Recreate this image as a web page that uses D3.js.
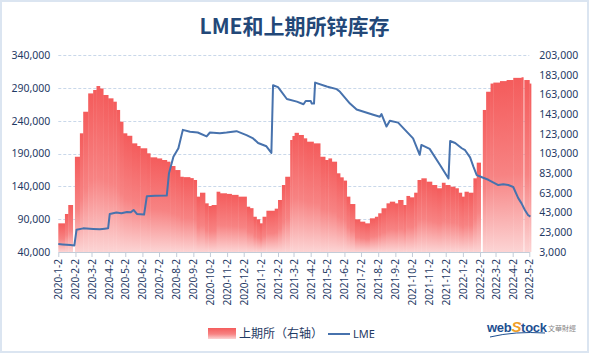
<!DOCTYPE html>
<html><head><meta charset="utf-8">
<script src="https://cdn.jsdelivr.net/npm/d3@7"></script>
<style>
body{margin:0;background:#fff;}
svg{display:block;font-family:"Noto Sans","Noto Sans CJK SC",sans-serif;}
</style></head><body>
<svg id="chart" width="589" height="353"></svg>
<script>
// ---- DATA ----
const titleText = "LME和上期所锌库存";
const seriesNames = ["上期所（右轴）", "LME"];

// SHFE (上期所) zinc stock, right axis; each value holds until the next date (null = no data)
const shfeDates = ["2020-01-02","2020-01-14","2020-01-20","2020-01-28","2020-02-01","2020-02-10","2020-02-16","2020-02-25","2020-03-05","2020-03-11","2020-03-17","2020-03-23","2020-04-01","2020-04-10","2020-04-16","2020-04-22","2020-04-28","2020-05-05","2020-05-14","2020-05-23","2020-05-29","2020-06-10","2020-06-16","2020-06-28","2020-07-07","2020-07-16","2020-07-22","2020-07-31","2020-08-09","2020-08-15","2020-08-27","2020-09-02","2020-09-08","2020-09-14","2020-09-23","2020-09-29","2020-10-05","2020-10-14","2020-10-20","2020-11-01","2020-11-10","2020-11-22","2020-12-07","2020-12-13","2020-12-19","2020-12-25","2020-12-31","2021-01-05","2021-01-12","2021-01-27","2021-02-02","2021-02-09","2021-02-15","2021-02-24","2021-02-28","2021-03-04","2021-03-11","2021-03-20","2021-03-26","2021-04-07","2021-04-19","2021-04-28","2021-05-04","2021-05-10","2021-05-19","2021-05-25","2021-05-31","2021-06-06","2021-06-12","2021-06-21","2021-06-30","2021-07-09","2021-07-18","2021-07-27","2021-08-02","2021-08-08","2021-08-17","2021-08-23","2021-09-01","2021-09-07","2021-09-16","2021-09-22","2021-09-28","2021-10-06","2021-10-12","2021-10-19","2021-10-28","2021-11-07","2021-11-16","2021-11-25","2021-12-01","2021-12-10","2021-12-19","2021-12-25","2021-12-31","2022-01-05","2022-01-12","2022-01-21","2022-01-27","2022-02-03","2022-02-07","2022-02-13","2022-02-21","2022-02-26","2022-03-10","2022-03-22","2022-04-03","2022-04-18","2022-04-21","2022-04-23","2022-05-02"];
const shfeValues = [32100,41600,50700,null,99700,123500,145400,164000,167500,171500,169000,162400,159000,155600,147200,135300,123500,121000,113300,110600,108300,103200,99100,98000,96400,94700,90300,86200,79400,79000,78000,76100,59200,63200,52400,49700,50700,64200,62600,62000,61000,59200,49000,47500,38800,36200,32100,38800,44900,47000,55800,71000,79400,116700,120800,124000,121800,118400,115000,113300,99700,96400,98000,94700,82900,78800,75500,59200,51700,36200,33800,32100,37200,38800,42300,47400,52400,54100,52400,55800,50700,59900,58500,63200,76100,77800,74400,71000,67700,73300,71000,69300,67700,63200,59200,64200,63200,77800,93700,null,147200,165700,174000,175000,176500,177600,179800,180400,null,177600,174000];
const shfeEndDate = "2022-05-05";

// LME zinc stock, left axis
const lmeDates = ["2020-01-02","2020-01-10","2020-01-17","2020-01-24","2020-01-31","2020-02-04","2020-02-16","2020-03-05","2020-03-17","2020-03-26","2020-04-01","2020-04-04","2020-04-16","2020-04-25","2020-05-05","2020-05-12","2020-05-17","2020-05-23","2020-06-05","2020-06-10","2020-06-25","2020-07-16","2020-07-20","2020-07-28","2020-08-06","2020-08-14","2020-08-27","2020-09-10","2020-09-26","2020-10-02","2020-10-20","2020-11-01","2020-11-19","2020-11-28","2020-12-07","2020-12-19","2020-12-28","2021-01-12","2021-01-21","2021-01-24","2021-02-02","2021-02-18","2021-03-08","2021-03-20","2021-03-24","2021-04-02","2021-04-04","2021-04-08","2021-04-10","2021-05-01","2021-05-19","2021-05-25","2021-06-12","2021-06-24","2021-07-24","2021-08-05","2021-08-08","2021-08-17","2021-08-23","2021-09-07","2021-10-04","2021-10-16","2021-10-19","2021-11-03","2021-11-22","2021-12-07","2021-12-10","2021-12-19","2021-12-31","2022-01-06","2022-01-15","2022-01-21","2022-01-27","2022-02-02","2022-02-17","2022-03-07","2022-03-16","2022-03-25","2022-04-03","2022-04-12","2022-04-18","2022-04-24","2022-04-30","2022-05-04"];
const lmeValues = [52000,51500,51000,50500,50000,74000,76000,75000,74500,75500,76000,98000,100000,99000,101000,100500,104000,98000,97000,125000,125500,126000,160000,185000,198000,226000,223000,222000,216000,222000,221000,222000,224000,221000,218000,213000,206000,201000,191000,294000,291000,273000,269000,265000,270000,270000,266000,266000,298000,292000,288000,284000,266000,257000,249000,246000,250000,231000,240000,237000,213000,188000,203000,197000,172000,152000,209000,206000,198000,195000,184000,170000,157000,155000,150000,142000,143000,142000,139000,122000,114000,104000,96000,94000];

const xTickLabels = ["2020-1-2","2020-2-2","2020-3-2","2020-4-2","2020-5-2","2020-6-2","2020-7-2","2020-8-2","2020-9-2","2020-10-2","2020-11-2","2020-12-2","2021-1-2","2021-2-2","2021-3-2","2021-4-2","2021-5-2","2021-6-2","2021-7-2","2021-8-2","2021-9-2","2021-10-2","2021-11-2","2021-12-2","2022-1-2","2022-2-2","2022-3-2","2022-4-2","2022-5-2"];
const leftTicks = [40000,90000,140000,190000,240000,290000,340000];
const rightTicks = [3000,23000,43000,63000,83000,103000,123000,143000,163000,183000,203000];

// ---- CHART ----
const svg = d3.select("#chart");
const W = 589, H = 353;
const plot = {left: 58.3, right: 529.3, top: 55, bottom: 252};
const textColor = "#1f3a64";

svg.append("rect").attr("x",1).attr("y",1).attr("width",W-2).attr("height",H-2)
  .attr("fill","#fff").attr("stroke","#dbe5f1").attr("stroke-width",2);

const parse = d3.timeParse("%Y-%m-%d");
const xTicks = xTickLabels.map(s => parse(s.split("-").map((p,i)=> i===0?p:p.padStart(2,"0")).join("-")));

const x = d3.scaleTime().domain([xTicks[0], xTicks[xTicks.length-1]]).range([plot.left, plot.right]);
const yL = d3.scaleLinear().domain([leftTicks[0], leftTicks[leftTicks.length-1]]).range([plot.bottom, plot.top]);
const yR = d3.scaleLinear().domain([rightTicks[0], rightTicks[rightTicks.length-1]]).range([plot.bottom, plot.top]);

// gradient
const defs = svg.append("defs");
const grad = defs.append("linearGradient").attr("id","barGrad").attr("x1",0).attr("y1",0).attr("x2",0).attr("y2",1);
grad.append("stop").attr("offset","0%").attr("stop-color","#f45c5c");
grad.append("stop").attr("offset","55%").attr("stop-color","#f78383");
grad.append("stop").attr("offset","100%").attr("stop-color","#fcd4d4");

// title
svg.append("text").attr("x",294.5).attr("y",34).attr("text-anchor","middle")
  .attr("font-family","'Noto Sans CJK SC',sans-serif").attr("font-weight","bold")
  .attr("font-size",21).attr("fill","#234878").text(titleText);

// gridlines
svg.append("g").selectAll("line").data(leftTicks.slice(1)).join("line")
  .attr("x1",plot.left).attr("x2",plot.right)
  .attr("y1",d=>Math.round(yL(d))+0.5).attr("y2",d=>Math.round(yL(d))+0.5)
  .attr("stroke","#c9d8ea").attr("stroke-dasharray","3,2").attr("stroke-width",1);

// bars
const shfe = shfeDates.map((d,i)=>({start:parse(d), end: parse(i<shfeDates.length-1 ? shfeDates[i+1] : shfeEndDate), v: shfeValues[i]}))
  .filter(d=>d.v!=null);
svg.append("g").selectAll("rect").data(shfe).join("rect")
  .attr("x",d=>x(d.start))
  .attr("width",d=>x(d.end)-x(d.start)+0.4)
  .attr("y",d=>yR(d.v))
  .attr("height",d=>plot.bottom-yR(d.v))
  .attr("fill","url(#barGrad)");

// x axis
const xAxis = svg.append("g").attr("transform",`translate(0,${plot.bottom})`)
  .call(d3.axisBottom(x).tickValues(xTicks).tickFormat((d,i)=>xTickLabels[i]).tickSize(5).tickSizeOuter(0));
xAxis.select(".domain").attr("stroke","#c3ccd8");
xAxis.selectAll(".tick line").attr("stroke","#c3ccd8");
xAxis.selectAll(".tick text")
  .attr("transform","rotate(-90)").attr("text-anchor","end")
  .attr("x",-7).attr("y",0).attr("dy","0.35em")
  .attr("font-size",10).attr("fill",textColor).attr("font-family","'Noto Sans',sans-serif");

// LME line
const lme = lmeDates.map((d,i)=>({d:parse(d), v:lmeValues[i]}));
svg.append("path").datum(lme)
  .attr("fill","none").attr("stroke","#4772ad").attr("stroke-width",2).attr("stroke-linejoin","round")
  .attr("d", d3.line().x(d=>x(d.d)).y(d=>yL(d.v)));

// left axis
const la = svg.append("g").attr("transform",`translate(${plot.left},0)`)
  .call(d3.axisLeft(yL).tickValues(leftTicks).tickFormat(d3.format(",")).tickSize(0).tickPadding(8));
la.select(".domain").remove();
la.selectAll("text").attr("font-size",10.5).attr("fill",textColor).attr("font-family","'Noto Sans',sans-serif");

// right axis
const ra = svg.append("g").attr("transform",`translate(${plot.right},0)`)
  .call(d3.axisRight(yR).tickValues(rightTicks).tickFormat(d3.format(",")).tickSize(0).tickPadding(10));
ra.select(".domain").remove();
ra.selectAll("text").attr("font-size",10.5).attr("fill",textColor).attr("font-family","'Noto Sans',sans-serif");

// legend
const lg = svg.append("g");
lg.append("rect").attr("x",208).attr("y",328).attr("width",28).attr("height",11).attr("fill","url(#barGrad)");
lg.append("text").attr("x",239).attr("y",338).attr("font-size",12).attr("fill",textColor)
  .attr("font-family","'Noto Sans CJK SC',sans-serif").text(seriesNames[0]);
lg.append("line").attr("x1",328).attr("x2",350).attr("y1",334).attr("y2",334).attr("stroke","#4772ad").attr("stroke-width",2);
lg.append("text").attr("x",353).attr("y",338).attr("font-size",11).attr("fill",textColor)
  .attr("font-family","'Noto Sans',sans-serif").text(seriesNames[1]);

// logo
const logo = svg.append("g");
const lt = logo.append("text").attr("x",487).attr("y",332).attr("font-size",13).attr("font-weight","bold")
  .attr("font-family","'Liberation Sans',sans-serif").attr("letter-spacing",-0.3);
lt.append("tspan").attr("fill","#1d4f91").text("web");
lt.append("tspan").attr("fill","#f0a028").attr("font-style","italic").attr("font-size",15).text("S");
lt.append("tspan").attr("fill","#1d4f91").text("tock");
logo.append("path").attr("d","M490,337 Q515,331 545,333").attr("fill","none").attr("stroke","#1d4f91").attr("stroke-width",1);
logo.append("text").attr("x",548).attr("y",331).attr("font-size",7).attr("fill","#888")
  .attr("font-family","'Noto Sans CJK TC',sans-serif").text("文華財經");
</script>
</body></html>
